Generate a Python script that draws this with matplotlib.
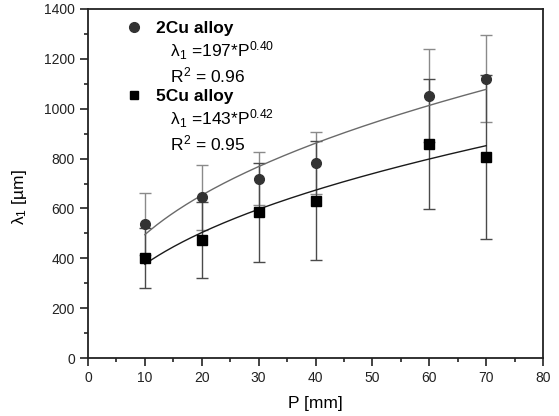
import numpy as np
import matplotlib
matplotlib.use('Agg')
import matplotlib.pyplot as plt
from matplotlib.lines import Line2D
from matplotlib.ticker import MultipleLocator

# ---- data ----
P = [10, 20, 30, 40, 60, 70]
lam_2cu = [537, 645, 720, 782, 1053, 1120]
err_2cu = [123, 130, 106, 126, 187, 175]
lam_5cu = [400, 474, 584, 631, 858, 806]
err_5cu = [120, 152, 200, 238, 260, 328]

# power-law fits given in the legend: lambda1 = a * P^b
fit_2cu = (197, 0.40)
fit_5cu = (143, 0.42)
r2_2cu, r2_5cu = 0.96, 0.95

plt.rcParams['font.family'] = ['Liberation Sans', 'DejaVu Sans']
plt.rcParams['mathtext.fontset'] = 'custom'
plt.rcParams['mathtext.rm'] = 'Liberation Sans'
plt.rcParams['mathtext.it'] = 'Liberation Sans'
plt.rcParams['mathtext.bf'] = 'Liberation Sans:bold'

fig = plt.figure(figsize=(5.59, 4.16), dpi=100)
ax = fig.add_axes([88 / 559, 1 - 358 / 416, 455 / 559, 349 / 416])

# error bars + markers
ax.errorbar(P, lam_2cu, yerr=err_2cu, fmt='none', ecolor='#8a8a8a',
            elinewidth=1, capsize=4, capthick=1, zorder=2)
ax.errorbar(P, lam_5cu, yerr=err_5cu, fmt='none', ecolor='#4a4a4a',
            elinewidth=1, capsize=4, capthick=1, zorder=2)
ax.plot(P, lam_2cu, 'o', color='#333333', ms=7, ls='', zorder=4)
ax.plot(P, lam_5cu, 's', color='black', ms=6.5, ls='', zorder=4)

# fit curves
pp = np.linspace(min(P), max(P), 200)
ax.plot(pp, fit_2cu[0] * pp ** fit_2cu[1], color='#6a6a6a', lw=1, zorder=3)
ax.plot(pp, fit_5cu[0] * pp ** fit_5cu[1], color='#1a1a1a', lw=1, zorder=3)

ax.set_xlim(0, 80)
ax.set_ylim(0, 1400)
ax.xaxis.set_major_locator(MultipleLocator(10))
ax.xaxis.set_minor_locator(MultipleLocator(5))
ax.yaxis.set_major_locator(MultipleLocator(200))
ax.yaxis.set_minor_locator(MultipleLocator(100))
ax.tick_params(which='both', direction='out', top=False, right=False,
               labelsize=10, width=1.2, colors='#222222')
ax.tick_params(which='major', length=6)
ax.tick_params(which='minor', length=3)
for s in ax.spines.values():
    s.set_linewidth(1.3)
    s.set_color('#222222')

ax.set_xlabel('P [mm]', fontsize=12.5, labelpad=8)
ax.set_ylabel('λ$_1$ [µm]', fontsize=12.5)
ax.yaxis.set_label_coords(-0.13, 0.46)

# legend with fit info
blank = Line2D([], [], ls='', marker='')
handles = [Line2D([], [], ls='', marker='o', color='#333333', ms=7), blank, blank,
           Line2D([], [], ls='', marker='s', color='black', ms=5.5), blank, blank]
labels = ['2Cu alloy',
          '   λ$_1$ =%d*P$^{%.2f}$' % fit_2cu,
          '   R$^2$ = %.2f' % r2_2cu,
          '5Cu alloy',
          '   λ$_1$ =%d*P$^{%.2f}$' % fit_5cu,
          '   R$^2$ = %.2f' % r2_5cu]
leg = ax.legend(handles, labels, loc='upper left', bbox_to_anchor=(0.057, 1.002),
                frameon=False, fontsize=12.5, labelspacing=0.2,
                handlelength=0.9, handletextpad=0.85, borderaxespad=0.3)
for i in (0, 3):
    leg.get_texts()[i].set_fontweight('bold')

fig.savefig('out.png', dpi=100)
